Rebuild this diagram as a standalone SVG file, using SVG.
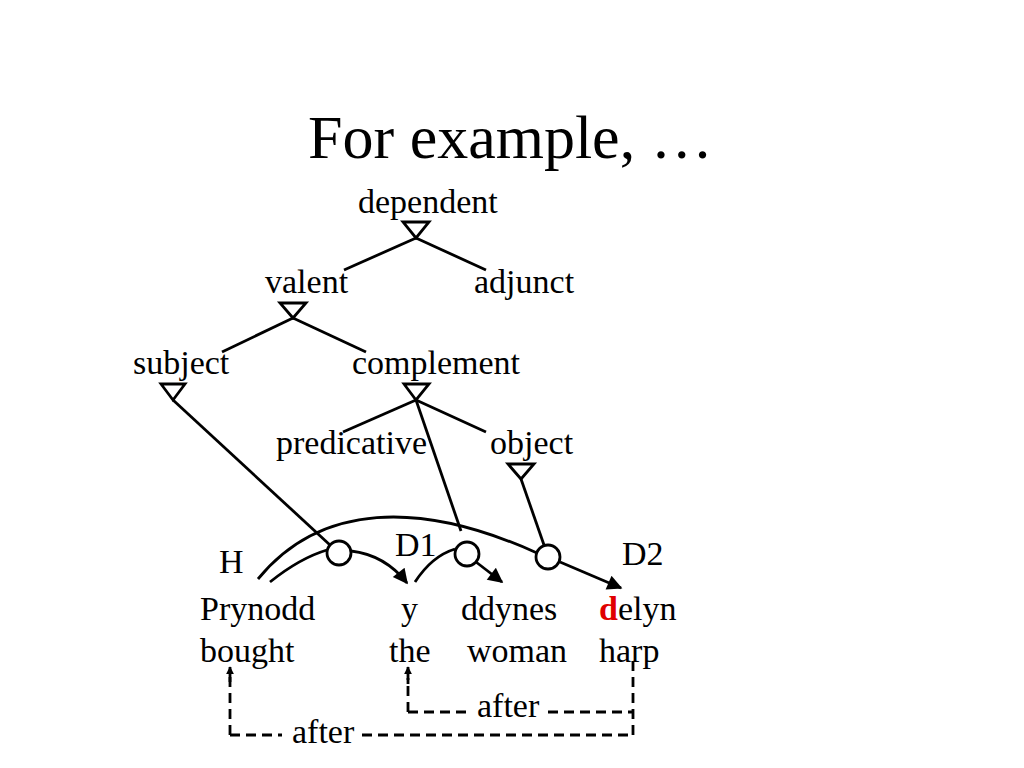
<svg xmlns="http://www.w3.org/2000/svg" width="1024" height="768" viewBox="0 0 1024 768">
<style>
text{font-family:"Liberation Serif","Times New Roman",serif;font-size:34px;fill:#000}
.title{font-size:62px}
.ln{stroke:#000;stroke-width:2.8;fill:none}
.tri{stroke:#000;stroke-width:2.8;fill:#fff;stroke-linejoin:miter}
.circ{stroke:#000;stroke-width:2.8;fill:#fff}
.dash{stroke:#000;stroke-width:2.8;fill:none;stroke-dasharray:10,6}
.red{fill:#e00000;font-weight:bold}
</style>
<defs>
<marker id="arr" viewBox="0 0 10 10" refX="9" refY="5" markerWidth="8" markerHeight="8" markerUnits="userSpaceOnUse" orient="auto">
<path d="M0,0 L10,5 L0,10 z" fill="#000"/>
</marker>
<marker id="arrBig" viewBox="0 0 10 10" refX="9" refY="5" markerWidth="18" markerHeight="15" markerUnits="userSpaceOnUse" orient="auto">
<path d="M0,0 L10,5 L0,10 z" fill="#000"/>
</marker>
</defs>
<rect width="1024" height="768" fill="#fff"/>
<text class="title" x="308" y="158">For example, …</text>

<g id="connectors">
<line class="ln" x1="416" y1="238" x2="344" y2="270"/>
<line class="ln" x1="416" y1="238" x2="486" y2="270"/>
<line class="ln" x1="293" y1="318" x2="222" y2="352"/>
<line class="ln" x1="293" y1="318" x2="366" y2="352"/>
<line class="ln" x1="416" y1="400" x2="343" y2="432"/>
<line class="ln" x1="416" y1="400" x2="486" y2="432"/>
<line class="ln" x1="416" y1="400" x2="461" y2="531"/>
<line class="ln" x1="173" y1="400" x2="330" y2="545"/>
<line class="ln" x1="521" y1="479" x2="544" y2="545"/>
<path class="ln" d="M258,579 C320,503 420,500 537,553"/>
<path class="ln" d="M560,562 L621,588" marker-end="url(#arrBig)"/>
<path class="ln" d="M270,582 Q300,558 327,550"/>
<path class="ln" d="M351,551 Q385,555 407,583" marker-end="url(#arrBig)"/>
<path class="ln" d="M415,582 Q432,556 455,549"/>
<path class="ln" d="M476,562 L502,582" marker-end="url(#arrBig)"/>
<line class="dash" x1="230" y1="735" x2="230" y2="676"/>
<line class="ln" x1="230" y1="682" x2="230" y2="667" marker-end="url(#arr)"/>
<line class="dash" x1="230" y1="735" x2="282" y2="735"/>
<line class="dash" x1="362" y1="735" x2="633" y2="735"/>
<line class="dash" x1="633" y1="735" x2="633" y2="660"/>
<line class="dash" x1="408" y1="712" x2="408" y2="678"/>
<line class="ln" x1="408" y1="684" x2="408" y2="667" marker-end="url(#arr)"/>
<line class="dash" x1="408" y1="712" x2="466" y2="712"/>
<line class="dash" x1="548" y1="712" x2="633" y2="712"/>
</g>

<g id="n-dependent"><text x="358" y="213">dependent</text><polygon class="tri" points="403,222 429,222 416,238"/></g>
<g id="n-valent"><text x="265" y="293">valent</text><polygon class="tri" points="280,303 306,303 293,318"/></g>
<g id="n-adjunct"><text x="474" y="293">adjunct</text></g>
<g id="n-subject"><text x="133" y="374">subject</text><polygon class="tri" points="161,384 185,384 173,400"/></g>
<g id="n-complement"><text x="352" y="374">complement</text><polygon class="tri" points="404,384 429,384 416,400"/></g>
<g id="n-predicative"><text x="276" y="454">predicative</text></g>
<g id="n-object"><text x="490" y="454">object</text><polygon class="tri" points="508,464 534,464 521,479"/></g>

<g id="n-c1"><circle class="circ" cx="339" cy="553" r="12"/></g>
<g id="n-c2"><circle class="circ" cx="467" cy="554" r="12"/></g>
<g id="n-c3"><circle class="circ" cx="548" cy="557" r="12"/></g>

<g id="n-H"><text x="219" y="573">H</text></g>
<g id="n-D1"><text x="395" y="556">D1</text></g>
<g id="n-D2"><text x="622" y="565">D2</text></g>

<g id="n-prynodd"><text x="200" y="620">Prynodd</text><text x="200" y="662">bought</text></g>
<g id="n-y"><text x="401" y="620">y</text><text x="389" y="662">the</text></g>
<g id="n-ddynes"><text x="461" y="620">ddynes</text><text x="467" y="662">woman</text></g>
<g id="n-delyn"><text x="599" y="620"><tspan class="red">d</tspan>elyn</text><text x="599" y="662">harp</text></g>

<g id="n-after1"><text x="292" y="743">after</text></g>
<g id="n-after2"><text x="477" y="717">after</text></g>
</svg>
